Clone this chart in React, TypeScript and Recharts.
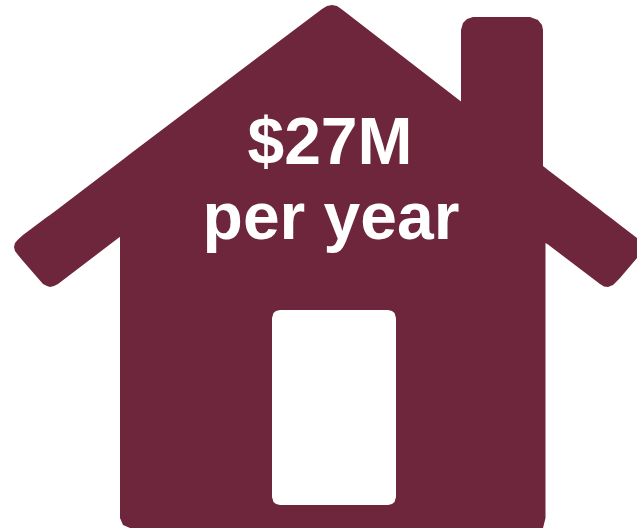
import React from 'react';
import { ComposedChart, Area, XAxis, YAxis, ReferenceDot } from 'recharts';

const MAROON = '#6d263c';

// house silhouette, read left to right off the picture (y counted from the top)
const houseX = [14, 15, 18, 23, 43, 47, 50, 54, 58, 119, 120, 120, 123, 130, 322, 327, 332, 337, 342, 461, 461, 463, 467, 473, 530, 538, 542, 543, 543, 545.5, 545.5, 548, 600, 604, 608, 613, 620, 637];
const houseTop = [247, 243, 239.5, 235, 220, 217, 215, 212, 209, 162.4, 161.7, 161.7, 159.4, 154, 9, 6, 5, 6, 9.5, 101.5, 30, 23, 19, 17, 17, 20, 25, 30, 166, 168, 168, 170, 209.6, 212.7, 215.8, 219.6, 225, 238];
const houseBottom = [247, 251, 255, 261, 284, 286, 287, 286, 284, 237.5, 237, 518, 525, 528, 528, 528, 528, 528, 528, 528, 528, 528, 528, 528, 528, 528, 528, 528, 528, 518, 243, 244.5, 284, 286.5, 287, 285, 278, 258];

const doorX = [272, 273.5, 276, 280, 388, 392, 394.5, 396];
const doorTop = [318, 313, 311, 310, 310, 311, 313, 318];
const doorBottom = [497, 502, 504, 505, 505, 504, 502, 497];

const textLines = ['$27M', 'per year'];
const textX = [330, 331];
const textY = [141, 216];

const rows = [
  ...houseX.map((x, i) => ({ x, house: [houseTop[i], houseBottom[i]], door: null })),
  ...doorX.map((x, i) => ({ x, house: null, door: [doorTop[i], doorBottom[i]] })),
];

export default function App() {
  return (
    <div style={{ position: 'absolute', left: 0, top: 0 }}>
      <ComposedChart width={637} height={529} data={rows} margin={{ top: 0, right: 0, bottom: 0, left: 0 }}>
        <XAxis type="number" dataKey="x" domain={[0, 637]} hide />
        <YAxis type="number" domain={[0, 529]} reversed hide />
        <Area type="linear" dataKey="house" fill={MAROON} fillOpacity={1} stroke="none" dot={false} activeDot={false} isAnimationActive={false} />
        <Area type="linear" dataKey="door" fill="#ffffff" fillOpacity={1} stroke="none" dot={false} activeDot={false} isAnimationActive={false} />
        {textLines.map((line, i) => (
          <ReferenceDot
            key={line}
            x={textX[i]}
            y={textY[i]}
            r={0}
            stroke="none"
            fill="none"
            label={{
              value: line,
              position: 'center',
              fill: '#ffffff',
              fontSize: 66,
              fontWeight: 700,
              fontFamily: '"Liberation Sans", Arial, sans-serif',
            }}
          />
        ))}
      </ComposedChart>
    </div>
  );
}
